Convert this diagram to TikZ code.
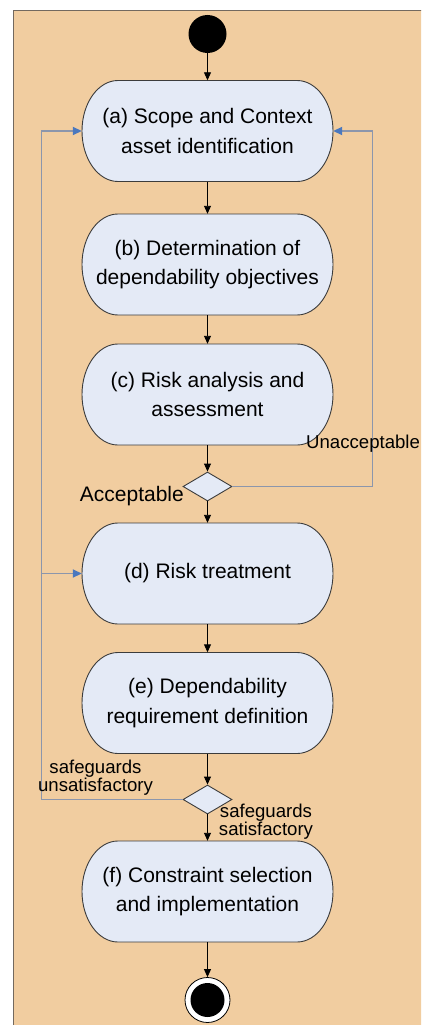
\documentclass[tikz,border=0pt]{standalone}
\usepackage{fontspec}
\setmainfont{Liberation Sans}
\usetikzlibrary{shapes.geometric,arrows.meta}
\definecolor{panel}{RGB}{241,205,160}
\definecolor{panelborder}{RGB}{115,105,95}
\definecolor{boxfill}{RGB}{228,234,246}
\definecolor{boxline}{RGB}{60,60,60}
\definecolor{loopgray}{RGB}{140,150,172}
\definecolor{loopblue}{RGB}{75,120,190}
\newcommand\actbox[3]{%
  \path[boxshape] (118,{#2-50.5}) -- (297,{#2-50.5})
    arc[start angle=90,end angle=-90,x radius=36pt,y radius=50.5pt]
    -- (118,{#2+50.5})
    arc[start angle=270,end angle=90,x radius=36pt,y radius=50.5pt] -- cycle;
  \node[boxtext] (#1) at (207.5,#2) {#3};}
\begin{document}
\begin{tikzpicture}[x=1pt,y=-1pt,
  boxshape/.style={draw=boxline,fill=boxfill,line width=0.9pt},
  boxtext/.style={minimum width=251pt,minimum height=101pt,inner sep=0pt,align=center,
    font=\fontsize{21}{29.5}\selectfont},
  decision/.style={diamond,draw=boxline,fill=boxfill,line width=0.9pt,minimum width=49pt,minimum height=29pt,inner sep=0pt},
  flow/.style={draw=black,line width=0.9pt,-{Triangle[length=8pt,width=7pt]}},
  loopline/.style={draw=loopgray,line width=1.8pt,-{Triangle[length=9pt,width=8pt,color=loopblue]}},
  guard/.style={font=\fontsize{18.6}{18}\selectfont,align=center,inner sep=0pt}]
\useasboundingbox (0,0) rectangle (421,1025);
\clip (0,0) rectangle (421,1025);
\draw[panelborder,fill=panel,line width=1.5pt] (13.5,10.5) rectangle (440,1040);

\node[circle,fill=black,minimum size=38pt,inner sep=0pt] (start) at (207.5,34) {};
\actbox{a}{131}{(a) Scope and Context\\asset identification}
\actbox{b}{264.5}{(b) Determination of\\dependability objectives}
\actbox{c}{394.5}{(c) Risk analysis and\\assessment}
\node[decision] (d1) at (207.5,486.5) {};
\actbox{d}{573.5}{(d) Risk treatment}
\actbox{e}{703}{(e) Dependability\\requirement definition}
\node[decision] (d2) at (207.5,799.5) {};
\actbox{f}{891.5}{(f) Constraint selection\\and implementation}
\node[circle,draw=black,fill=white,line width=0.8pt,minimum size=45pt,inner sep=0pt] (stop) at (207.5,1000) {};
\node[circle,fill=black,minimum size=34pt,inner sep=0pt] (stopdot) at (stop) {};

\draw[flow] (start) -- (a);
\draw[flow] (a) -- (b);
\draw[flow] (b) -- (c);
\draw[flow] (c) -- (d1);
\draw[flow] (d1) -- (d);
\draw[flow] (d) -- (e);
\draw[flow] (e) -- (d2);
\draw[flow] (d2) -- (f);
\draw[flow] (f) -- (stop);

\draw[loopline] (d1.east) -- ++(140,0) |- (a.east);
\draw[loopline] (d2.west) -- ++(-141,0) coordinate (lc) |- (a.west);
\draw[loopline] (lc |- d.west) -- (d.west);

\node[guard,anchor=west] (unacc) at (306,444) {Unacceptable};
\node[anchor=east,inner sep=0pt,font=\fontsize{21}{24}\selectfont] (acc) at (184,496) {Acceptable};
\node[guard] (unsat) at (95.5,778) {safeguards\\unsatisfactory};
\node[guard] (sat) at (266,822) {safeguards\\satisfactory};
\end{tikzpicture}
\end{document}
